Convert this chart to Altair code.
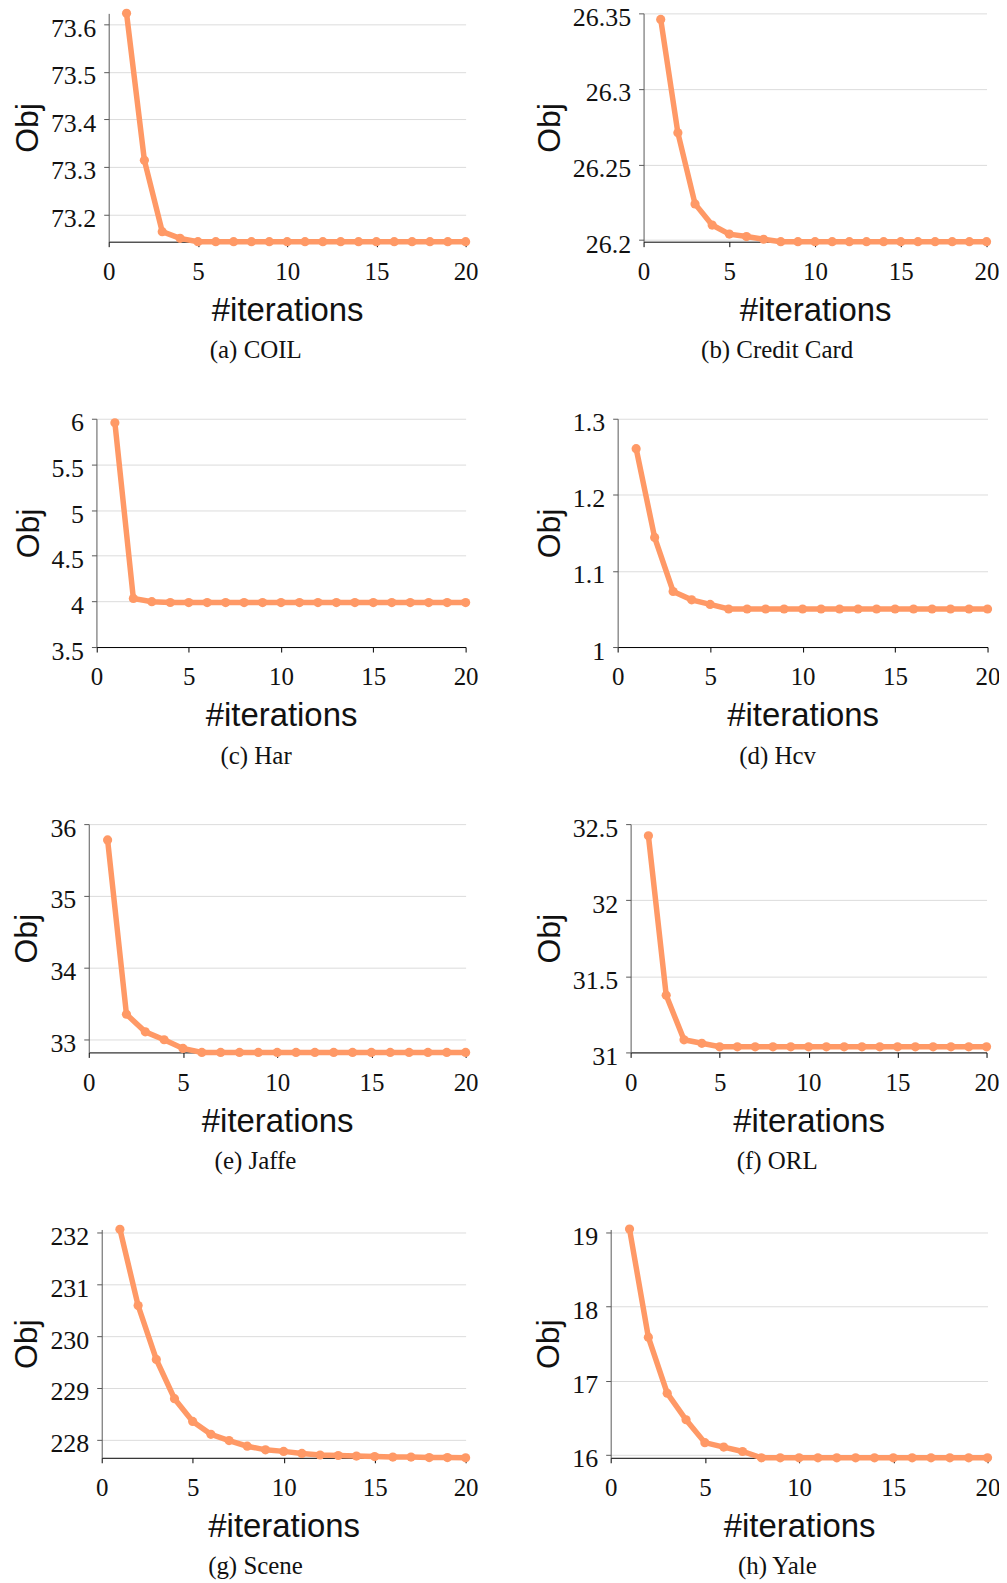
import altair as alt
import pandas as pd

ITER = [1, 2, 3, 4, 5, 6, 7, 8, 9, 10, 11, 12, 13, 14, 15, 16, 17, 18, 19, 20]
X_TICKS = [0, 5, 10, 15, 20]

CAPTIONS = ["(a) COIL", "(b) Credit Card", "(c) Har", "(d) Hcv",
            "(e) Jaffe", "(f) ORL", "(g) Scene", "(h) Yale"]

coil = [73.623, 73.314, 73.164, 73.150, 73.143, 73.143, 73.143, 73.143, 73.143, 73.143,
        73.143, 73.143, 73.143, 73.143, 73.143, 73.143, 73.143, 73.143, 73.143, 73.143]
credit = [26.346, 26.271, 26.224, 26.210, 26.204, 26.2024, 26.2006, 26.199, 26.199, 26.199,
          26.199, 26.199, 26.199, 26.199, 26.199, 26.199, 26.199, 26.199, 26.199, 26.199]
har = [5.956, 4.032, 3.997, 3.988, 3.987, 3.987, 3.987, 3.987, 3.987, 3.987,
       3.987, 3.987, 3.987, 3.987, 3.987, 3.987, 3.987, 3.987, 3.987, 3.987]
hcv = [1.2607, 1.144, 1.073, 1.062, 1.056, 1.050, 1.050, 1.050, 1.050, 1.050,
       1.050, 1.050, 1.050, 1.050, 1.050, 1.050, 1.050, 1.050, 1.050, 1.050]
jaffe = [35.78, 33.355, 33.11, 33.0, 32.88, 32.824, 32.824, 32.824, 32.824, 32.824,
         32.824, 32.824, 32.824, 32.824, 32.824, 32.824, 32.824, 32.824, 32.824, 32.824]
orl = [32.423, 31.375, 31.083, 31.06, 31.037, 31.037, 31.037, 31.037, 31.037, 31.037,
       31.037, 31.037, 31.037, 31.037, 31.037, 31.037, 31.037, 31.037, 31.037, 31.037]
scene = [232.07, 230.593, 229.55, 228.79, 228.35, 228.10, 227.98, 227.87, 227.80, 227.77,
         227.73, 227.70, 227.69, 227.68, 227.67, 227.66, 227.66, 227.65, 227.65, 227.646]
yale = [19.05, 17.587, 16.83, 16.47, 16.16, 16.10, 16.04, 15.955, 15.955, 15.955,
        15.955, 15.955, 15.955, 15.955, 15.955, 15.955, 15.955, 15.955, 15.955, 15.955]

SERIES = [coil, credit, har, hcv, jaffe, orl, scene, yale]
DOMAINS = [[73.143, 73.623], [26.199, 26.35], [3.5, 6], [1, 1.3],
           [32.824, 36], [31, 32.5], [227.646, 232.065], [15.955, 19.045]]
Y_TICKS = [[73.2, 73.3, 73.4, 73.5, 73.6], [26.2, 26.25, 26.3, 26.35],
           [3.5, 4, 4.5, 5, 5.5, 6], [1, 1.1, 1.2, 1.3],
           [33, 34, 35, 36], [31, 31.5, 32, 32.5],
           [228, 229, 230, 231, 232], [16, 17, 18, 19]]

# layout (pixels): panel widths and left inset of the y axis inside each panel
WIDTHS = [378, 344, 378, 371, 378, 357, 378, 378]
INSETS = [20, 0, 7.7, 0, 0, 0, 13, 0]

ORANGE = "#FF9966"
SERIF = "Liberation Serif"
SANS = "Liberation Sans"


def panel(i):
    df = pd.DataFrame({"iter": ITER, "obj": SERIES[i]})
    xscale = alt.Scale(domain=[0, 20], nice=False)
    if INSETS[i] > 0:
        xscale = alt.Scale(domain=[0, 20], nice=False, range=[INSETS[i], WIDTHS[i]])
    yaxis_kw = dict(values=Y_TICKS[i], format="~g", title="Obj",
                    grid=True, gridColor="#DCDCDC", gridWidth=1,
                    labelFlush=False,
                    labelFont=SERIF, labelFontSize=26, labelColor="#111",
                    labelPadding=8, labelOffset=4, tickSize=5,
                    tickColor="#595959", domainColor="#595959",
                    titleFont=SANS, titleFontSize=32,
                    titleFontWeight="normal", titleColor="#111",
                    titlePadding=6)
    if INSETS[i] > 0:
        yaxis_kw["offset"] = -INSETS[i]
    return alt.Chart(df).mark_line(
        color=ORANGE, strokeWidth=5.5,
        point=alt.OverlayMarkDef(color=ORANGE, filled=True, size=85, opacity=1),
    ).encode(
        x=alt.X("iter:Q", scale=xscale,
                axis=alt.Axis(values=X_TICKS, title="#iterations", grid=False,
                              labelFlush=False,
                              labelFont=SERIF, labelFontSize=25, labelColor="#111",
                              labelPadding=13, tickSize=5, tickColor="#000",
                              domainColor="#000", titleFont=SANS, titleFontSize=33,
                              titleFontWeight="normal", titleColor="#111",
                              titlePadding=10)),
        y=alt.Y("obj:Q",
                scale=alt.Scale(domain=DOMAINS[i], nice=False, zero=False),
                axis=alt.Axis(**yaxis_kw)),
    ).properties(
        width=WIDTHS[i], height=229,
        title=alt.TitleParams(CAPTIONS[i], orient="bottom", frame="bounds",
                              anchor="middle", dx=11, offset=11, font=SERIF,
                              fontSize=25, fontWeight="normal", color="#111"),
    )


chart = alt.concat(
    *[panel(i) for i in range(8)],
    columns=2,
    align={"row": "all", "column": "none"},
    spacing={"row": 43.6, "column": 54.5},
).properties(
    padding={"left": 3, "top": -8, "right": -1, "bottom": 0}
).configure_view(stroke=None)

chart.save("out.html", embed_options={"renderer": "svg", "actions": False})
